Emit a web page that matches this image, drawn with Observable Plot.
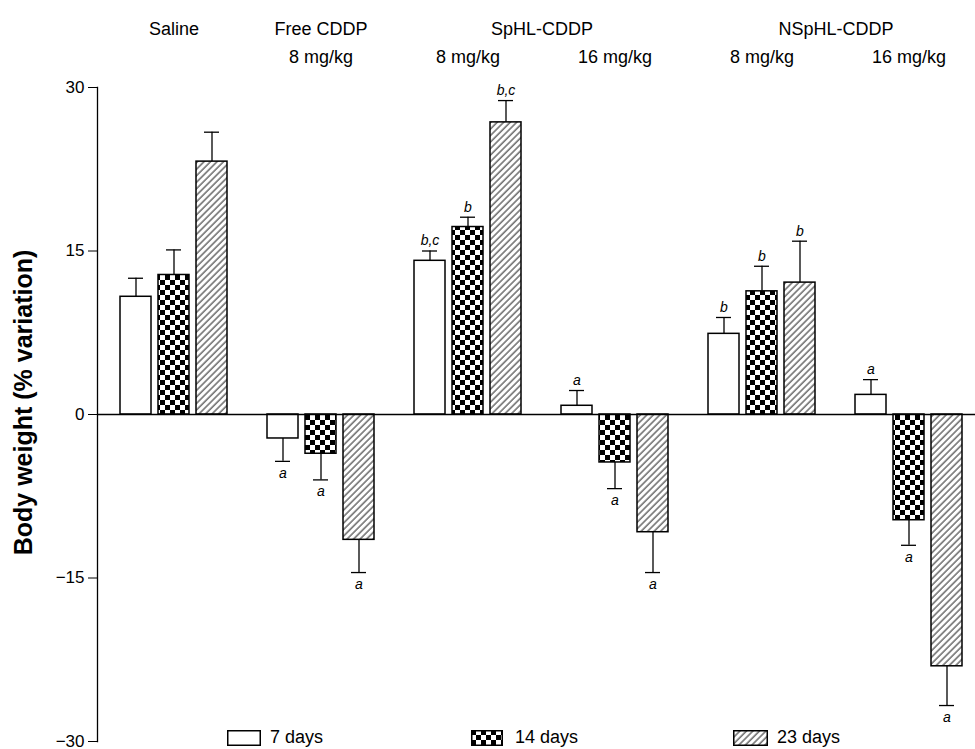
<!DOCTYPE html>
<html>
<head>
<meta charset="utf-8">
<script src="https://cdn.jsdelivr.net/npm/d3@7"></script>
<script src="https://cdn.jsdelivr.net/npm/@observablehq/plot@0.6"></script>
<style>
  html, body { margin: 0; padding: 0; background: #fff; }
  #wrap { position: relative; width: 975px; height: 749px; font-family: "Liberation Sans", Arial, sans-serif; }
  #wrap > svg { overflow: visible; }
  #legend { position: absolute; left: 0; top: 0; width: 975px; height: 749px; pointer-events: none; }
  .lg { position: absolute; top: 727px; font-size: 18px; color: #000; line-height: 20px; }
  .sw { position: absolute; top: 730px; }
</style>
</head>
<body>
<div id="wrap"></div>
<script>
// ---- data ----
const groups = ["Saline", "Free CDDP 8", "SpHL 8", "SpHL 16", "NSpHL 8", "NSpHL 16"];
const headerNames = ["Saline", "Free CDDP", "SpHL-CDDP", "", "NSpHL-CDDP", ""];
const headerDoses = ["", "8 mg/kg", "8 mg/kg", "16 mg/kg", "8 mg/kg", "16 mg/kg"];
const days = ["7 days", "14 days", "23 days"];
const mean7  = [10.8, -2.2, 14.1, 0.8, 7.4, 1.8];
const mean14 = [12.8, -3.6, 17.2, -4.4, 11.3, -9.7];
const mean23 = [23.2, -11.5, 26.8, -10.8, 12.1, -23.1];
const err7  = [1.7, 2.1, 0.9, 1.4, 1.5, 1.4];
const err14 = [2.3, 2.4, 0.9, 2.4, 2.3, 2.3];
const err23 = [2.7, 3.0, 2.0, 3.7, 3.8, 3.6];
const sig7  = ["", "a", "b,c", "a", "b", "a"];
const sig14 = ["", "a", "b", "a", "b", "a"];
const sig23 = ["", "a", "b,c", "a", "b", "a"];
const yTicks = [-30, -15, 0, 15, 30];

// ---- build rows ----
const series = [
  {day: days[0], mean: mean7, err: err7, sig: sig7, fill: "#fff"},
  {day: days[1], mean: mean14, err: err14, sig: sig14, fill: "url(#checker)"},
  {day: days[2], mean: mean23, err: err23, sig: sig23, fill: "url(#hatch)"}
];
const rowsFor = s => groups.map((g, i) => {
  const m = s.mean[i], e = s.err[i];
  return {group: g, day: s.day, mean: m, end: m >= 0 ? m + e : m - e, sig: s.sig[i]};
});

// ---- layout ----
const band = 108, barW = 32, gap = (band - 3 * barW) / 2;
const capW = 16;
const offs = [0, 1, 2].map(k => -band / 2 + barW / 2 + k * (barW + gap));

const defsMark = () => {
  const ns = "http://www.w3.org/2000/svg";
  const g = document.createElementNS(ns, "g");
  g.innerHTML = `<defs>
    <pattern id="checker" patternUnits="userSpaceOnUse" width="10" height="10">
      <rect width="10" height="10" fill="#fff"/>
      <rect x="0" y="0" width="5" height="5" fill="#000"/>
      <rect x="5" y="5" width="5" height="5" fill="#000"/>
    </pattern>
    <pattern id="hatch" patternUnits="userSpaceOnUse" width="4.6" height="4.6" patternTransform="rotate(45)">
      <rect width="4.6" height="4.6" fill="#fff"/>
      <line x1="1" y1="0" x2="1" y2="4.6" stroke="#444" stroke-width="1.2"/>
    </pattern>
  </defs>`;
  return g;
};

const marks = [defsMark];
series.forEach((s, k) => {
  const rows = rowsFor(s);
  marks.push(Plot.ruleX(rows, {x: "group", y1: "mean", y2: "end", dx: offs[k], stroke: "#000", strokeWidth: 1.3}));
  marks.push(Plot.tickY(rows, {x: "group", y: "end", dx: offs[k], stroke: "#000", strokeWidth: 1.3,
    insetLeft: (band - capW) / 2, insetRight: (band - capW) / 2}));
  marks.push(Plot.barY(rows, {x: "group", y1: 0, y2: "mean", fill: s.fill, stroke: "#000", strokeWidth: 1.5,
    insetLeft: k * (barW + gap), insetRight: (2 - k) * (barW + gap)}));
  const pos = rows.filter(d => d.sig && d.mean >= 0);
  const neg = rows.filter(d => d.sig && d.mean < 0);
  marks.push(Plot.text(pos, {x: "group", y: "end", text: "sig", dx: offs[k], dy: -10, fontSize: 14, fontStyle: "italic"}));
  marks.push(Plot.text(neg, {x: "group", y: "end", text: "sig", dx: offs[k], dy: 12, fontSize: 14, fontStyle: "italic"}));
});
marks.push(Plot.ruleY([0], {stroke: "#000", strokeWidth: 1.3}));
marks.push(Plot.frame({anchor: "left", stroke: "#000", strokeWidth: 1.3}));
marks.push(Plot.axisY({ticks: yTicks, tickSize: 9, tickPadding: 4, fontSize: 17, label: null,
  tickFormat: d => d < 0 ? "\u2212" + Math.abs(d) : String(d)}));
marks.push(Plot.text(["Body weight (% variation)"], {frameAnchor: "left", textAnchor: "middle", rotate: -90,
  dx: -74, dy: -12, fontWeight: "bold", fontSize: 25}));
// headers
const hdr = groups.map((g, i) => ({group: g, name: headerNames[i], dose: headerDoses[i]}));
marks.push(Plot.text(hdr.filter(d => d.name === "Saline" || d.name === "Free CDDP"),
  {x: "group", text: "name", frameAnchor: "top", dy: -65, fontSize: 18}));
marks.push(Plot.text(hdr.filter(d => d.name === "SpHL-CDDP" || d.name === "NSpHL-CDDP"),
  {x: "group", text: "name", frameAnchor: "top", dy: -65, dx: 74, fontSize: 18}));
marks.push(Plot.text(hdr.filter(d => d.dose), {x: "group", text: "dose", frameAnchor: "top", dy: -37, fontSize: 18}));

const chart = Plot.plot({
  width: 975,
  height: 749,
  marginLeft: 97,
  marginRight: 0,
  marginTop: 87,
  marginBottom: 8,
  style: {fontFamily: "'Liberation Sans', Arial, sans-serif", color: "#000", background: "#fff", overflow: "visible"},
  x: {domain: groups, range: [117, 965], paddingInner: 0.27, paddingOuter: 0, axis: null},
  y: {domain: [-30, 30], axis: null},
  marks
});
const wrap = document.getElementById("wrap");
wrap.appendChild(chart);

// legend overlay
const legend = document.createElement("div");
legend.id = "legend";
const legendItems = [
  {label: days[0], fill: "#fff", sx: 227, sw: 34, tx: 270},
  {label: days[1], fill: "url(#checker)", sx: 471, sw: 32, tx: 515},
  {label: days[2], fill: "url(#hatch)", sx: 733, sw: 35, tx: 777}
];
legendItems.forEach(it => {
  const sv = document.createElementNS("http://www.w3.org/2000/svg", "svg");
  sv.setAttribute("class", "sw");
  sv.setAttribute("width", it.sw);
  sv.setAttribute("height", 16);
  sv.style.left = it.sx + "px";
  sv.innerHTML = `<rect x="0.75" y="0.75" width="${it.sw - 1.5}" height="14.5" fill="${it.fill}" stroke="#000" stroke-width="1.5"/>`;
  legend.appendChild(sv);
  const t = document.createElement("div");
  t.className = "lg";
  t.style.left = it.tx + "px";
  t.textContent = it.label;
  legend.appendChild(t);
});
wrap.appendChild(legend);
</script>
</body>
</html>
